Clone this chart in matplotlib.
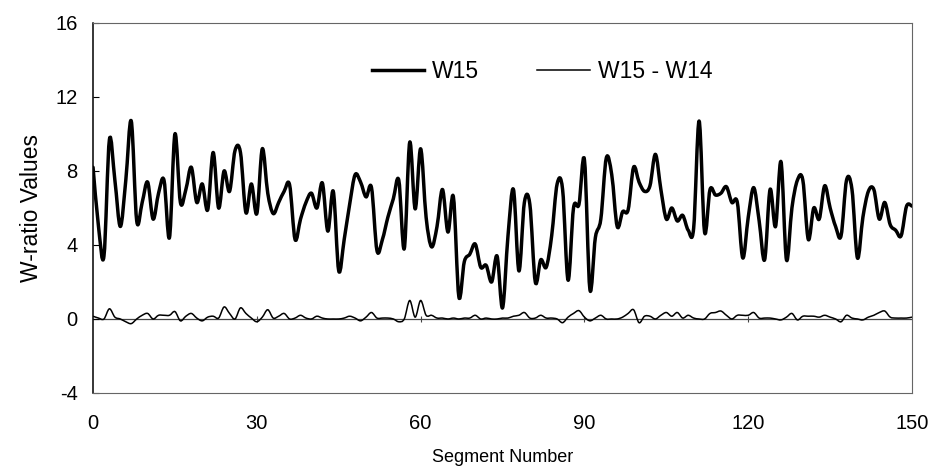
import matplotlib
matplotlib.use("Agg")
import matplotlib.pyplot as plt
import numpy as np
from matplotlib.path import Path
from matplotlib.patches import PathPatch
from matplotlib.lines import Line2D

plt.rcParams['font.family'] = ['Liberation Sans', 'DejaVu Sans']
plt.rcParams['axes.unicode_minus'] = False

segments = np.arange(0, 151)

w15 = [8.2, 5.0, 3.4, 9.7, 7.5, 5.0, 7.5, 10.7, 5.3, 6.3,
       7.4, 5.4, 6.8, 7.5, 4.4, 10.0, 6.3, 7.0, 8.2, 6.3,
       7.3, 5.9, 9.0, 6.0, 8.0, 6.9, 9.1, 9.0, 5.75, 7.3,
       5.7, 9.2, 6.8, 5.7, 6.3, 6.9, 7.25, 4.3, 5.4, 6.3,
       6.8, 6.0, 7.35, 4.75, 6.9, 2.6, 4.3, 6.2, 7.8, 7.4,
       6.6, 7.1, 3.7, 4.3, 5.5, 6.5, 7.5, 3.8, 9.55, 5.95,
       9.2, 5.5, 3.9, 5.0, 7.0, 4.7, 6.6, 1.2, 3.1, 3.5,
       4.05, 2.8, 2.9, 2.0, 3.4, 0.6, 4.5, 7.0, 2.6, 6.3,
       6.2, 2.0, 3.2, 2.8, 4.5, 7.3, 7.0, 2.1, 6.0, 6.2,
       8.6, 1.6, 4.4, 5.4, 8.7, 7.8, 5.0, 5.8, 5.9, 8.2,
       7.4, 6.9, 7.2, 8.9, 7.0, 5.4, 6.0, 5.3, 5.6, 4.8,
       4.9, 10.7, 4.7, 7.0, 6.7, 6.8, 7.15, 6.3, 6.3, 3.3,
       5.5, 7.1, 5.3, 3.2, 7.0, 5.0, 8.5, 3.2, 6.0, 7.5,
       7.5, 4.3, 6.0, 5.4, 7.2, 6.0, 5.0, 4.5, 7.5, 7.0,
       3.3, 5.5, 6.9, 7.0, 5.4, 6.3, 5.1, 4.8, 4.5, 6.1,
       6.1]

w15_minus_w14 = [0.15, 0.05, 0.0, 0.55, 0.1, 0.0, -0.15, -0.25, 0.0, 0.2,
                 0.3, 0.0, 0.2, 0.2, 0.2, 0.4, -0.1, 0.15, 0.3, 0.05,
                 -0.1, 0.1, 0.15, 0.05, 0.65, 0.3, 0.0, 0.6, 0.3, 0.05,
                 -0.15, 0.1, 0.5, 0.05, 0.15, 0.3, 0.0, 0.05, 0.2, 0.05,
                 0.0, 0.15, 0.05, 0.0, 0.0, 0.0, 0.05, 0.15, 0.05, -0.1,
                 0.1, 0.35, 0.05, 0.05, 0.05, 0.0, -0.15, 0.0, 1.0, 0.1,
                 1.0, 0.2, 0.2, 0.05, 0.05, 0.0, 0.05, 0.0, 0.05, 0.05,
                 0.2, 0.0, 0.05, 0.0, 0.0, 0.05, 0.05, 0.15, 0.2, 0.35,
                 0.05, 0.05, 0.2, 0.05, 0.05, 0.0, -0.2, 0.1, 0.3, 0.45,
                 0.1, -0.1, 0.05, 0.2, 0.0, 0.0, 0.0, 0.1, 0.3, 0.5,
                 -0.2, 0.15, 0.15, 0.0, 0.2, 0.35, 0.15, 0.35, 0.05, 0.2,
                 0.05, 0.0, 0.0, 0.3, 0.35, 0.43, 0.2, 0.0, 0.2, 0.2,
                 0.2, 0.35, 0.05, 0.05, 0.05, 0.0, -0.05, 0.1, 0.3, -0.05,
                 0.15, 0.15, 0.15, 0.1, 0.2, 0.1, 0.0, -0.15, 0.2, 0.05,
                 0.0, -0.05, 0.1, 0.2, 0.35, 0.43, 0.1, 0.05, 0.05, 0.05,
                 0.1]

x_ticks = [0, 30, 60, 90, 120, 150]
y_ticks = [-4, 0, 4, 8, 12, 16]


def smooth_path(x, y):
    # cubic bezier through every point, spreadsheet-style smoothing
    pts = np.column_stack([x, y]).astype(float)
    n = len(pts)
    verts = [pts[0]]
    codes = [Path.MOVETO]
    for i in range(n - 1):
        p0 = pts[i - 1] if i > 0 else pts[i]
        p1 = pts[i]
        p2 = pts[i + 1]
        p3 = pts[i + 2] if i + 2 < n else pts[i + 1]
        verts += [p1 + (p2 - p0) / 6.0, p2 - (p3 - p1) / 6.0, p2]
        codes += [Path.CURVE4] * 3
    return Path(verts, codes)


fig = plt.figure(figsize=(9.36, 4.76), dpi=100)
ax = fig.add_axes([0.0994, 0.1744, 0.875, 0.7773])

ax.axhline(0, color='#444444', lw=0.9, zorder=1)
ax.plot(x_ticks[1:-1], [0] * 4, ls='none', marker='|', ms=5, mew=0.8, color='#444444')

ax.add_patch(PathPatch(smooth_path(segments, w15_minus_w14), fill=False,
                       lw=1.1, edgecolor='black', zorder=2))
ax.add_patch(PathPatch(smooth_path(segments, w15), fill=False,
                       lw=2.5, edgecolor='black', zorder=3, capstyle='round',
                       joinstyle='round'))

ax.set_xlim(0, 150)
ax.set_ylim(-4, 16)
ax.set_xticks(x_ticks)
ax.set_yticks(y_ticks)
ax.tick_params(axis='y', direction='in', length=4, pad=11, labelsize=14.5)
ax.tick_params(axis='x', length=0, pad=15, labelsize=14.5)

ax.spines['left'].set_color('black')
ax.spines['left'].set_linewidth(1.1)
for side in ['top', 'right', 'bottom']:
    ax.spines[side].set_color('#666666')
    ax.spines[side].set_linewidth(0.8)

ax.set_xlabel('Segment Number', fontsize=13, labelpad=12)
ax.set_ylabel('W-ratio Values', fontsize=16.5, labelpad=9)

handles = [Line2D([], [], color='black', lw=2.5),
           Line2D([], [], color='black', lw=1.1)]
ax.legend(handles, ['W15', 'W15 - W14'], ncol=2, frameon=False,
          loc='center', bbox_to_anchor=(0.548, 0.870), fontsize=16.5,
          handlelength=2.3, handletextpad=0.35, columnspacing=2.5)

fig.savefig('out.png', dpi=100)
